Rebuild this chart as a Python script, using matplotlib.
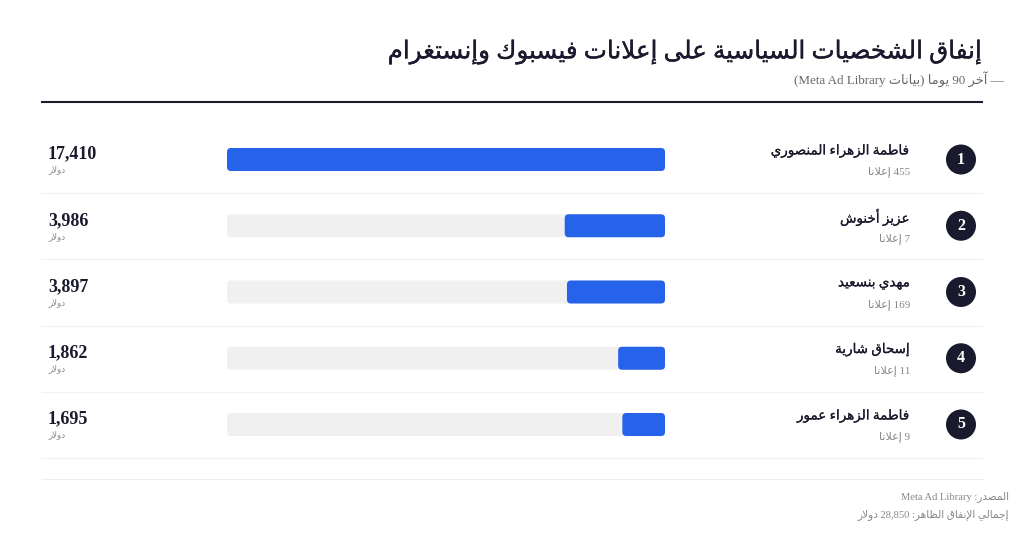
import re
import matplotlib
matplotlib.use('Agg')
from matplotlib import pyplot as plt
from matplotlib import patheffects as pe
from matplotlib.patches import Circle, FancyBboxPatch

names = ['فاطمة الزهراء المنصوري', 'عزيز أخنوش', 'مهدي بنسعيد', 'إسحاق شارية', 'فاطمة الزهراء عمور']
spend = [17410, 3986, 3897, 1862, 1695]
ads = [455, 7, 169, 11, 9]

title = 'إنفاق الشخصيات السياسية على إعلانات فيسبوك وإنستغرام'
subtitle = '— آخر 90 يوما (بيانات Meta Ad Library)'
unit = 'دولار'
ads_word = 'إعلانا'
source = 'المصدر: Meta Ad Library'
total = 'إجمالي الإنفاق الظاهر: 28,850 دولار'

DARK = '#1a1a2e'
BLUE = '#2563eb'
GRAY = '#888888'

# matplotlib has no arabic shaping, so pick presentation forms by hand
# letter: isolated, then final/initial/medial follow in code point order
FOUR = {'ب': 0xFE8F, 'ت': 0xFE95, 'ث': 0xFE99, 'ج': 0xFE9D, 'ح': 0xFEA1, 'خ': 0xFEA5,
        'س': 0xFEB1, 'ش': 0xFEB5, 'ص': 0xFEB9, 'ض': 0xFEBD, 'ط': 0xFEC1, 'ظ': 0xFEC5,
        'ع': 0xFEC9, 'غ': 0xFECD, 'ف': 0xFED1, 'ق': 0xFED5, 'ك': 0xFED9, 'ل': 0xFEDD,
        'م': 0xFEE1, 'ن': 0xFEE5, 'ه': 0xFEE9, 'ي': 0xFEF1, 'ئ': 0xFE89}
TWO = {'ا': 0xFE8D, 'أ': 0xFE83, 'إ': 0xFE87, 'آ': 0xFE81, 'د': 0xFEA9, 'ذ': 0xFEAB,
       'ر': 0xFEAD, 'ز': 0xFEAF, 'و': 0xFEED, 'ؤ': 0xFE85, 'ة': 0xFE93, 'ى': 0xFEEF}
LAM_ALEF = {'ا': 0xFEFB, 'أ': 0xFEF7, 'إ': 0xFEF9, 'آ': 0xFEF5}


def shape(word):
    out = []
    i = 0
    prev_joins = False
    while i < len(word):
        c = word[i]
        nxt = word[i + 1] if i + 1 < len(word) else ''
        if c == 'ل' and nxt in LAM_ALEF and nxt:
            out.append(chr(LAM_ALEF[nxt] + (1 if prev_joins else 0)))
            prev_joins = False
            i += 2
            continue
        next_ok = nxt in FOUR or nxt in TWO
        if c in FOUR:
            base = FOUR[c]
            if prev_joins and next_ok:
                form = base + 3
            elif prev_joins:
                form = base + 1
            elif next_ok:
                form = base + 2
            else:
                form = base
            out.append(chr(form))
            prev_joins = next_ok
        elif c in TWO:
            out.append(chr(TWO[c] + (1 if prev_joins else 0)))
            prev_joins = False
        else:
            out.append(c)
            prev_joins = False
        i += 1
    return ''.join(out)


def rtl(s):
    s = shape(s)
    parts = re.split(r'([A-Za-z0-9](?:[A-Za-z0-9 ,.]*[A-Za-z0-9])?)', s)
    parts = parts[::-1]
    res = []
    for p in parts:
        if re.match(r'[A-Za-z0-9]', p):
            res.append(p)
        else:
            res.append(p[::-1].translate(str.maketrans('()', ')(')))
    return ''.join(res)


def heavy(w):
    # arabic glyphs only come in regular and a too wide bold, thicken the regular
    return [pe.withStroke(linewidth=w, foreground=DARK)]


plt.rcParams['font.family'] = ['Liberation Serif', 'DejaVu Sans']

fig = plt.figure(figsize=(10.24, 5.6), dpi=100)
ax = fig.add_axes([0, 0, 1, 1])
ax.set_xlim(0, 1024)
ax.set_ylim(560, 0)
ax.axis('off')

# bars live on their own axes, value 0 at the right end
bx = fig.add_axes([227 / 1024, 0, 438 / 1024, 1])
bx.set_xlim(max(spend), 0)
bx.set_ylim(560, 0)
bx.axis('off')
per_px = max(spend) / 438

ax.text(983, 52, rtl(title), ha='right', va='center', fontsize=17.7, color=DARK, path_effects=heavy(0.25))
ax.text(1004, 79, rtl(subtitle), ha='right', va='center', fontsize=9.4, color='#666666')
ax.plot([41, 983], [102, 102], color=DARK, lw=1.5, solid_capstyle='butt')

for i, name in enumerate(names):
    y = 159.5 + 66.25 * i
    ax.add_patch(Circle((961, y), 15, color=DARK, lw=0))
    ax.text(961, y, str(i + 1), ha='center', va='center', fontsize=11.5, color='white', fontweight='bold')
    ax.text(910, y - 8.5, rtl(name), ha='right', va='center', fontsize=9.7, color=DARK, path_effects=heavy(0.15))
    ax.text(910, y + 12.5, rtl('%d %s' % (ads[i], ads_word)), ha='right', va='center', fontsize=8, color=GRAY)
    ax.text(48, y - 5.5, format(spend[i], ','), ha='left', va='center', fontsize=13, color=DARK, fontweight='bold')
    ax.text(48, y + 10.5, rtl(unit), ha='left', va='center', fontsize=6.3, color=GRAY)
    for val, col in ((max(spend), '#f0f0f0'), (spend[i], BLUE)):
        bx.add_patch(FancyBboxPatch((0, y - 11.5), val, 23, boxstyle='round,pad=0,rounding_size=%f' % (4 * per_px),
                                    mutation_aspect=1 / per_px, fc=col, ec='none'))
    ax.plot([41, 983], [y + 33.5, y + 33.5], color='#f0f0f0', lw=0.8, solid_capstyle='butt')

ax.plot([41, 983], [479, 479], color='#eeeeee', lw=0.8, solid_capstyle='butt')
ax.text(1009, 497, rtl(source), ha='right', va='center', fontsize=7.6, color=GRAY)
ax.text(1009, 515, rtl(total), ha='right', va='center', fontsize=7.6, color=GRAY)

fig.savefig('out.png', dpi=100)
